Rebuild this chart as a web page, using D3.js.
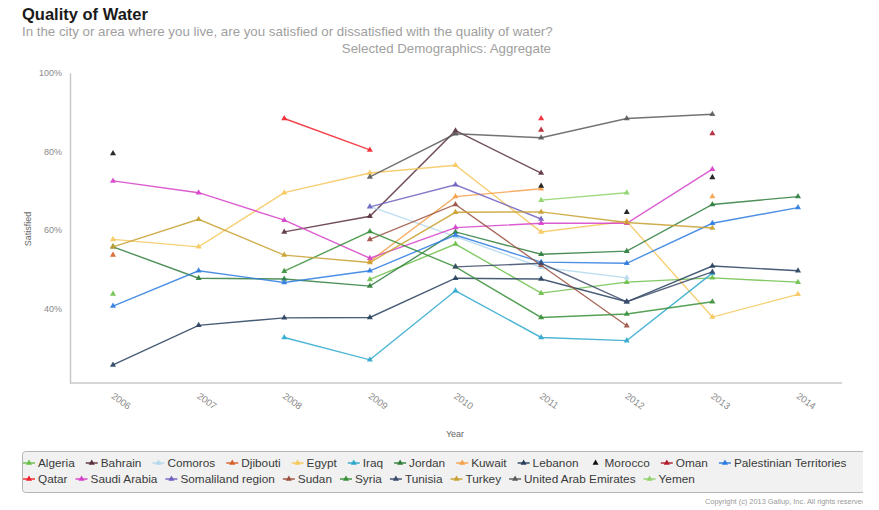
<!DOCTYPE html>
<html><head><meta charset="utf-8">
<script src="https://cdn.jsdelivr.net/npm/d3@7/dist/d3.min.js"></script>
<style>
body{margin:0;background:#fff;}
text{font-family:"Liberation Sans",Arial,sans-serif;}
</style></head>
<body>
<svg id="chart" width="879" height="510"></svg>
<script>
const years = [2006, 2007, 2008, 2009, 2010, 2011, 2012, 2013, 2014];
const yTicks = [40, 60, 80, 100];
const countries = ["Algeria","Bahrain","Comoros","Djibouti","Egypt","Iraq","Jordan","Kuwait","Lebanon","Morocco","Oman","Palestinian Territories","Qatar","Saudi Arabia","Somaliland region","Sudan","Syria","Tunisia","Turkey","United Arab Emirates","Yemen"];
const colors = ["#6cbf4a","#5a3040","#b3d8ee","#d8602c","#f6c75a","#2ea8cc","#2e7d3c","#f5a04a","#27405e","#111111","#b01e2e","#2e7be0","#f0212b","#d63fc9","#7060c0","#9a5040","#3a8f3a","#3c4a6a","#c8a030","#5a5a5a","#8fd36a"];
const markersOnly = ["Morocco"];

const algeria     = [43.7, null, null, 47.4, 56.4, 43.9, 46.7, 47.8, 46.7];
const bahrain     = [null, null, 59.5, 63.5, 85.3, 74.5, null, null, null];
const comoros     = [null, null, null, 66.0, 58.3, 50.5, 47.8, null, null];
const djibouti    = [53.6, null, null, null, null, null, null, null, null];
const egypt       = [57.6, 55.7, 69.5, 74.5, 76.5, 59.5, 62.2, 37.8, 43.6];
const iraq        = [null, null, 32.6, 26.9, 44.5, 32.6, 31.8, 49.0, null];
const jordan      = [55.7, 47.7, 47.5, 45.7, 59.5, 53.8, 54.6, 66.5, 68.5];
const kuwait      = [null, null, null, 52.0, 68.5, 70.5, null, 68.5, null];
const lebanon     = [25.6, 35.7, 37.6, 37.7, 47.7, 47.5, 41.7, 50.8, 49.6];
const morocco     = [79.5, null, null, null, null, 71.2, 64.5, 73.4, null];
const oman        = [null, null, null, null, null, 85.5, null, 84.6, null];
const palestinian = [40.6, 49.6, 46.6, 49.6, 58.7, 51.8, 51.5, 61.7, 65.7];
const qatar       = [null, null, 88.4, 80.4, null, 88.4, null, null, null];
const saudi       = [72.5, 69.5, 62.5, 52.8, 60.6, 61.7, 61.7, 75.5, null];
const somaliland  = [null, null, null, 65.9, 71.5, 62.8, null, null, null];
const sudan       = [null, null, null, 57.6, 66.5, 51.0, 35.6, null, null];
const syria       = [null, null, 49.5, 59.6, 50.6, 37.7, 38.6, 41.7, null];
const tunisia     = [null, null, null, null, 50.6, 51.5, 41.7, 49.3, null];
const turkey      = [55.7, 62.7, 53.6, 51.7, 64.5, 64.6, 61.9, 60.5, null];
const uae         = [null, null, null, 73.5, 84.5, 83.5, 88.4, 89.5, null];
const yemen       = [null, null, null, null, null, 67.6, 69.5, null, null];

const seriesValues = [algeria,bahrain,comoros,djibouti,egypt,iraq,jordan,kuwait,lebanon,morocco,oman,palestinian,qatar,saudi,somaliland,sudan,syria,tunisia,turkey,uae,yemen];

const svg = d3.select("#chart");

// titles
svg.append("text").attr("x",22).attr("y",20).attr("font-size",16.5).attr("font-weight","bold").attr("fill","#1a1a1a").text("Quality of Water");
svg.append("text").attr("x",22).attr("y",36).attr("font-size",13.3).attr("fill","#a0a0a0").attr("font-family","'Open Sans', sans-serif").text("In the city or area where you live, are you satisfied or dissatisfied with the quality of water?");
svg.append("text").attr("x",551).attr("y",53).attr("text-anchor","end").attr("font-size",13.3).attr("fill","#a0a0a0").attr("font-family","'Open Sans', sans-serif").text("Selected Demographics: Aggregate");

const x = d3.scalePoint().domain(years).range([113, 798]);
const y = d3.scaleLinear().domain([21, 100]).range([383, 73]);

// axes
const yAxis = svg.append("g").attr("transform","translate(70,0)")
  .call(d3.axisLeft(y).tickValues(yTicks).tickFormat(d => d + "%").tickSize(0).tickPadding(8));
yAxis.select(".domain").attr("stroke","#c8c8c8").attr("stroke-width",1.5);
yAxis.selectAll("text").attr("font-size",9).attr("fill","#8a8a8a").attr("font-family","Liberation Sans, Arial, sans-serif");

const xAxis = svg.append("g").attr("transform","translate(0,383)")
  .call(d3.axisBottom(x).tickSize(0).tickPadding(8));
xAxis.select(".domain").attr("d","M70,0H842").attr("stroke","#c8c8c8").attr("stroke-width",1.5);
xAxis.selectAll("text")
  .attr("font-size",9.5).attr("fill","#8a8a8a").attr("font-family","Liberation Sans, Arial, sans-serif")
  .attr("text-anchor","start").attr("dy",0)
  .attr("transform","translate(2,8) rotate(36)");

svg.append("text").attr("transform","translate(31,229) rotate(-90)").attr("text-anchor","middle")
  .attr("font-size",9).attr("fill","#666").text("Satisfied");
svg.append("text").attr("x",455).attr("y",437).attr("text-anchor","middle")
  .attr("font-size",9).attr("fill","#666").text("Year");

// series
const tri = d3.symbol().type(d3.symbolTriangle).size(16);
const line = d3.line().defined(d => d.v != null).x(d => x(d.year)).y(d => y(d.v));
const plot = svg.append("g");
countries.forEach((name, i) => {
  const pts = years.map((yr, j) => ({year: yr, v: seriesValues[i][j]}));
  if (!markersOnly.includes(name)) {
    plot.append("path").datum(pts).attr("d", line).attr("fill","none")
      .attr("stroke", colors[i]).attr("stroke-width",1.4).attr("stroke-opacity",0.85);
  }
});
countries.forEach((name, i) => {
  const pts = years.map((yr, j) => ({year: yr, v: seriesValues[i][j]})).filter(d => d.v != null);
  plot.selectAll(null).data(pts).enter().append("path")
    .attr("d", tri).attr("transform", d => `translate(${x(d.year)},${y(d.v)})`)
    .attr("fill", colors[i]).attr("fill-opacity",0.9);
});

// legend
svg.append("defs").append("clipPath").attr("id","lc").append("rect").attr("x",0).attr("y",440).attr("width",863).attr("height",70);
const lg = svg.append("g").attr("clip-path","url(#lc)");
lg.append("rect").attr("x",22.5).attr("y",451.5).attr("width",900).attr("height",41).attr("rx",3)
  .attr("fill","#f1f1f1").attr("stroke","#b5b5b5");
const rows = [countries.slice(0,12), countries.slice(12)];
rows.forEach((row, r) => {
  let cx = 23;
  const yy = 467 + r * 16;
  row.forEach(name => {
    const i = countries.indexOf(name);
    const g = lg.append("g");
    if (!markersOnly.includes(name)) {
      g.append("line").attr("x1",cx).attr("x2",cx+12).attr("y1",yy-4).attr("y2",yy-4).attr("stroke",colors[i]).attr("stroke-width",1.4);
    }
    g.append("path").attr("d",tri).attr("transform",`translate(${cx+6},${yy-4})`).attr("fill",colors[i]);
    const t = g.append("text").attr("x",cx+15).attr("y",yy).attr("font-size",11.8).attr("fill","#3a3a3a").text(name);
    cx = cx + 15 + t.node().getComputedTextLength() + (r === 0 ? 11 : 8);
  });
});
lg.append("text").attr("x",705).attr("y",504).attr("font-size",7.4).attr("fill","#999").text("Copyright (c) 2013 Gallup, Inc. All rights reserved.");
</script>
</body></html>
